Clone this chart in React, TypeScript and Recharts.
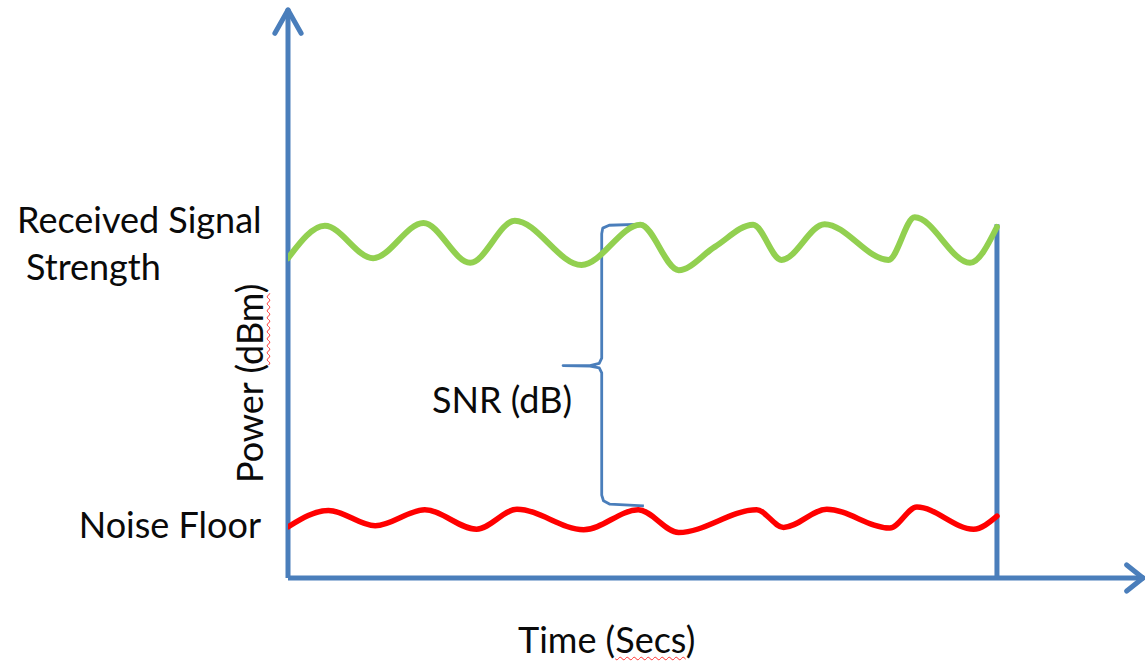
import { LineChart, Line, XAxis, YAxis, ReferenceLine } from 'recharts';

// time axis runs 0..100 over the traced window, power axis 0..100 (relative)
const X_MAX = 120.6;
const Y_MAX = 100;

const signalT = [0, 5.2, 12.0, 19.1, 25.7, 32.0, 41.4, 49.7, 55.1, 60.2, 65.6, 69.6, 75.7, 84.7, 88.4, 96.2, 100];
const signalP = [56.3, 62.0, 56.3, 62.5, 55.5, 62.9, 55.1, 62.2, 54.2, 58.3, 62.2, 56.0, 62.3, 56.0, 63.5, 55.5, 61.8];

const noiseT = [0, 5.7, 12.3, 19.3, 26.6, 32.3, 41.7, 49.4, 55.1, 66.1, 69.9, 76.0, 84.9, 88.7, 96.7, 100];
const noiseP = [9.0, 11.9, 9.2, 12.0, 8.6, 12.1, 8.5, 12.0, 8.0, 12.0, 8.9, 12.1, 8.8, 12.5, 8.6, 10.9];

// curly brace spanning the gap between the two traces
const braceT = [50.2, 45.3, 44.4, 44.25, 44.25, 43.9, 42.6, 38.8, 42.6, 43.9, 44.25, 44.25, 44.5, 45.4, 50.2];
const braceP = [62.3, 62.1, 61.6, 60.6, 38.7, 37.8, 37.4, 37.4, 37.3, 37.0, 36.1, 14.6, 13.6, 13.0, 12.7];

const END_T = 100;
const END_P = 62.3;

const yArrow = [{ x: -1.85, y: 95.9 }, { x: 0, y: Y_MAX }, { x: 1.85, y: 95.9 }];
const xArrow = [{ x: 118.3, y: 2.3 }, { x: X_MAX, y: 0 }, { x: 118.3, y: -2.3 }];

const toPoints = (t: number[], p: number[]) => t.map((x, i) => ({ x, y: p[i] }));

const signal = toPoints(signalT, signalP);
const noise = toPoints(noiseT, noiseP);
const brace = toPoints(braceT, braceP);

const BLUE = '#4a7ebb';
const FS = 36;
const BASE = 0.887 * FS; // baseline offset for Lato with line-height 1

const txt = (left: number, baseline: number): React.CSSProperties => ({
  position: 'absolute',
  left,
  top: baseline - BASE,
  fontSize: FS,
  lineHeight: 1,
  whiteSpace: 'nowrap',
});

const squiggle: React.CSSProperties = {
  textDecorationLine: 'underline',
  textDecorationStyle: 'wavy',
  textDecorationColor: '#ff3030',
  textDecorationThickness: 1,
  textUnderlineOffset: 3,
};

export default function App() {
  return (
    <div style={{ position: 'absolute', left: 0, top: 0, width: 1145, height: 667, background: '#fff', fontFamily: 'Lato, sans-serif', color: '#0a0a0a' }}>
      <LineChart width={1145} height={667} margin={{ top: 10, right: 2, bottom: 89, left: 288 }}>
        <XAxis type="number" dataKey="x" domain={[0, X_MAX]} allowDataOverflow hide />
        <YAxis type="number" domain={[0, Y_MAX]} allowDataOverflow hide />

        <ReferenceLine x={0} stroke={BLUE} strokeWidth={5} />
        <ReferenceLine y={0} stroke={BLUE} strokeWidth={5} />
        <ReferenceLine segment={[yArrow[1], yArrow[0]]} stroke={BLUE} strokeWidth={5} strokeLinecap="round" ifOverflow="visible" />
        <ReferenceLine segment={[yArrow[1], yArrow[2]]} stroke={BLUE} strokeWidth={5} strokeLinecap="round" ifOverflow="visible" />
        <ReferenceLine segment={[xArrow[1], xArrow[0]]} stroke={BLUE} strokeWidth={5} strokeLinecap="round" ifOverflow="visible" />
        <ReferenceLine segment={[xArrow[1], xArrow[2]]} stroke={BLUE} strokeWidth={5} strokeLinecap="round" ifOverflow="visible" />
        <ReferenceLine segment={[{ x: END_T, y: 0 }, { x: END_T, y: END_P }]} stroke={BLUE} strokeWidth={5} ifOverflow="visible" />

        <Line data={brace} dataKey="y" type="linear" stroke={BLUE} strokeWidth={2.8} strokeLinejoin="round" dot={false} activeDot={false} isAnimationActive={false} />
        <Line data={signal} dataKey="y" type="monotone" stroke="#92d050" strokeWidth={6} strokeLinecap="round" dot={false} activeDot={false} isAnimationActive={false} />
        <Line data={noise} dataKey="y" type="monotone" stroke="#ff0000" strokeWidth={5.5} strokeLinecap="round" dot={false} activeDot={false} isAnimationActive={false} />
      </LineChart>

      <div style={txt(17, 233)}>Received Signal</div>
      <div style={txt(26, 280)}>Strength</div>
      <div style={{ ...txt(0, 537.7), width: 261, textAlign: 'right' }}>Noise Floor</div>
      <div style={txt(432, 413)}>SNR (dB)</div>
      <div style={txt(518, 653)}>
        Time (<span style={squiggle}>Secs</span>)
      </div>
      <div style={{ ...txt(263 - BASE, 483 + BASE), top: 483, transform: 'rotate(-90deg)', transformOrigin: '0 0' }}>
        Power (<span style={squiggle}>dBm</span>)
      </div>
    </div>
  );
}
